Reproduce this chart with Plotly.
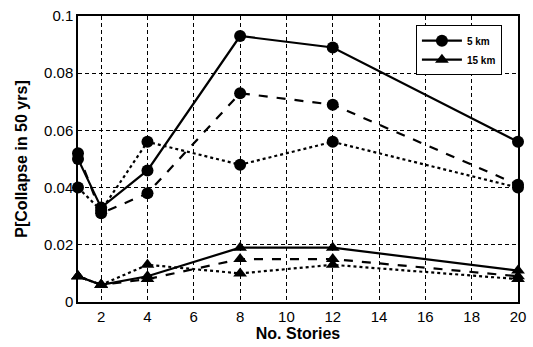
import plotly.graph_objects as go

stories = [1, 2, 4, 8, 12, 20]
# 5 km (circles)
p5_solid = [0.050, 0.033, 0.046, 0.093, 0.089, 0.056]
p5_dash = [0.052, 0.031, 0.038, 0.073, 0.069, 0.041]
p5_dot = [0.040, 0.032, 0.056, 0.048, 0.056, 0.040]
# 15 km (triangles)
p15_solid = [0.009, 0.006, 0.009, 0.019, 0.019, 0.011]
p15_dash = [0.009, 0.006, 0.008, 0.015, 0.015, 0.009]
p15_dot = [0.009, 0.006, 0.013, 0.010, 0.013, 0.008]

xticks = [2, 4, 6, 8, 10, 12, 14, 16, 18, 20]
yticks = [0, 0.02, 0.04, 0.06, 0.08, 0.1]
ytext = ["0", "0.02", "0.04", "0.06", "0.08", "0.1"]

fig = go.Figure()

series = [
    ("<b>5 km</b>", p5_solid, "solid", "circle", True),
    ("5 km dash", p5_dash, "dash", "circle", False),
    ("5 km dot", p5_dot, "dot", "circle", False),
    ("<b>15 km</b>", p15_solid, "solid", "triangle-up", True),
    ("15 km dash", p15_dash, "dash", "triangle-up", False),
    ("15 km dot", p15_dot, "dot", "triangle-up", False),
]
for name, ys, dash, sym, show in series:
    fig.add_trace(go.Scatter(
        x=stories, y=ys, mode="lines+markers", name=name, showlegend=show,
        line=dict(color="black", width=2.2, dash=dash),
        marker=dict(symbol=sym, size=12, color="black"),
        cliponaxis=False,
    ))

fam = "Liberation Sans, Arial, sans-serif"
tick_font = dict(family=fam, size=15, color="black")
title_font = dict(family=fam, size=16, color="black")
fig.update_layout(
    width=533, height=347,
    margin=dict(l=78, r=7, t=15, b=44),
    paper_bgcolor="white", plot_bgcolor="white",
    font=tick_font,
    legend=dict(x=0.768, y=0.968, xanchor="left", yanchor="top",
                bordercolor="black", borderwidth=1, bgcolor="white",
                font=dict(family=fam, size=10, color="black"),
                itemwidth=40, tracegroupgap=0),
    xaxis=dict(range=[1, 20], tickvals=xticks, showgrid=True, gridcolor="black",
               griddash="4px,3px", gridwidth=1.3, showline=True, linecolor="black", linewidth=1.5,
               mirror=True, zeroline=False, ticks="", tickfont=tick_font,
               title=dict(text="<b>No. Stories</b>", standoff=4, font=title_font)),
    yaxis=dict(range=[0, 0.1], tickvals=yticks, ticktext=ytext, showgrid=True, gridcolor="black",
               griddash="4px,3px", gridwidth=1.3, showline=True, linecolor="black", linewidth=1.5,
               mirror=True, zeroline=False, ticks="", tickfont=tick_font,
               title=dict(text="<b>P[Collapse in 50 yrs]</b>", standoff=12, font=title_font)),
)

fig.write_html("out.html")
